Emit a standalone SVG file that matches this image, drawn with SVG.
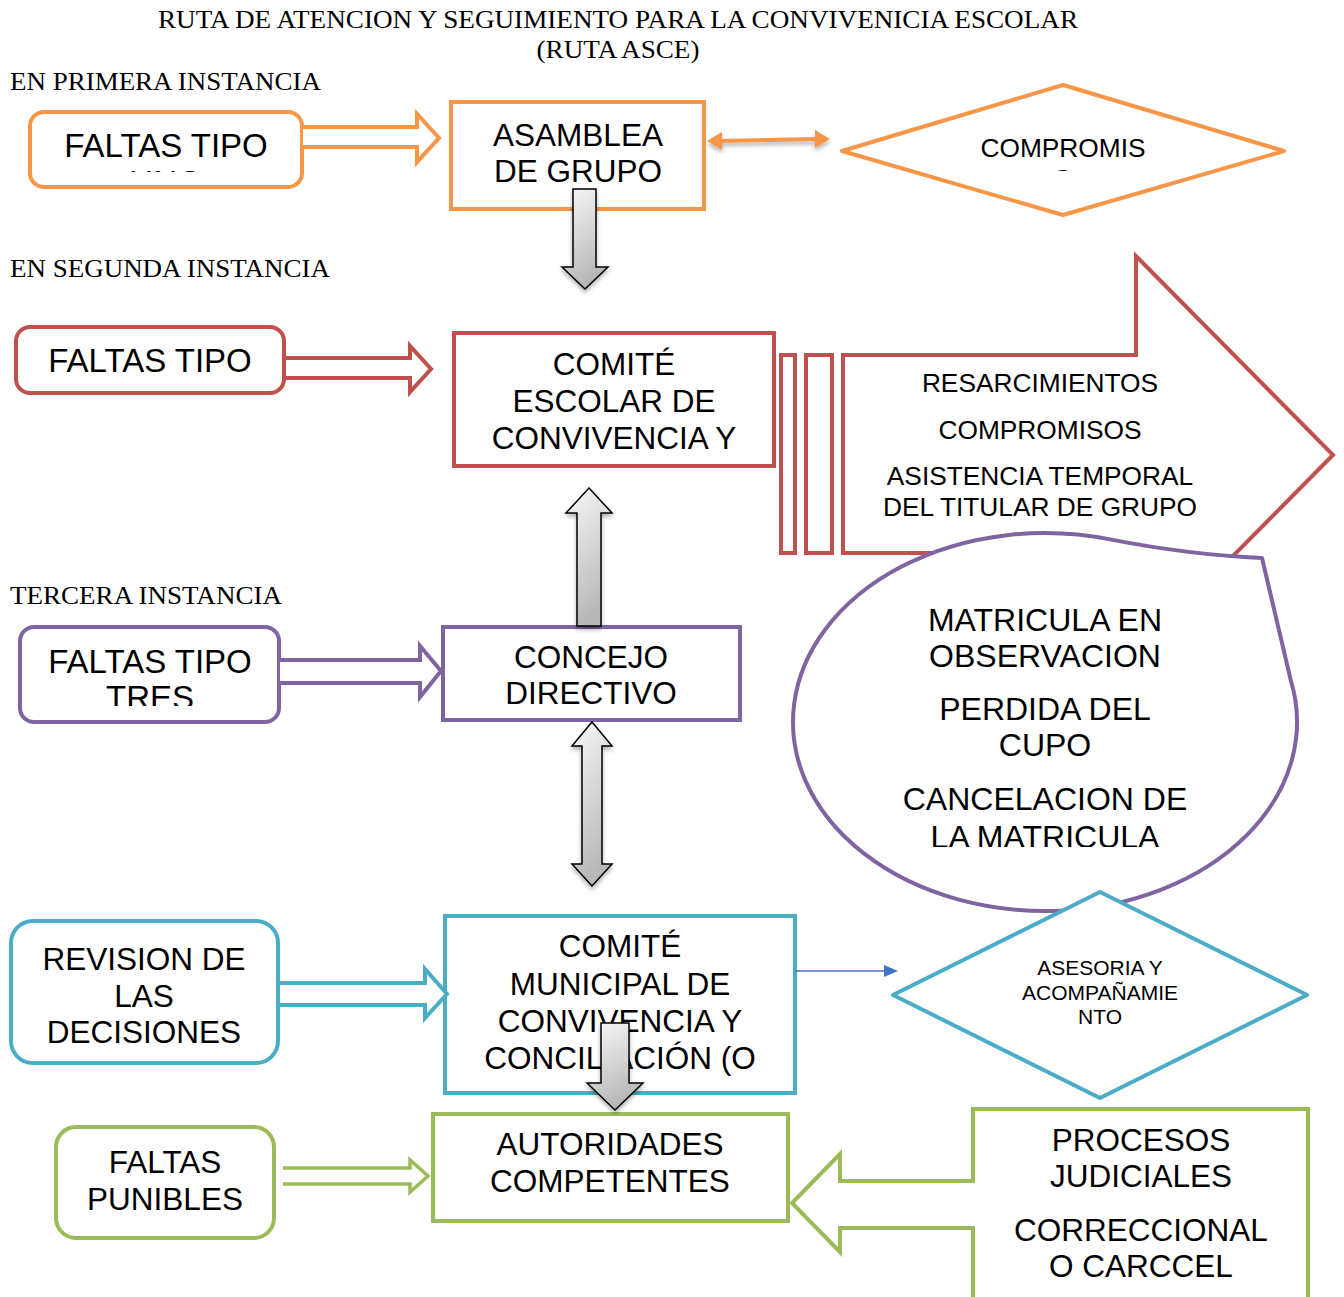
<svg xmlns="http://www.w3.org/2000/svg" width="1344" height="1297" viewBox="0 0 1344 1297">
<style>
.bx{fill:#fff;stroke-width:4}
.o{stroke:#F79646}.r{stroke:#C0504D}.p{stroke:#8064A2}.t{stroke:#4BACC6}.g{stroke:#9BBB59}
.l{font-family:"Liberation Sans",Arial,sans-serif;font-size:31.5px;text-anchor:middle;fill:#000}
.f{font-size:33px}
.m{font-family:"Liberation Sans",Arial,sans-serif;font-size:26.3px;text-anchor:middle;fill:#000}
.s{font-family:"Liberation Sans",Arial,sans-serif;font-size:21px;text-anchor:middle;fill:#000}
.e{font-family:"Liberation Sans",Arial,sans-serif;font-size:32px;text-anchor:middle;fill:#000}
.sf{font-family:"Liberation Serif","Times New Roman",serif;font-size:25.5px;fill:#000}
.ga{fill:url(#gr);stroke:#000;stroke-width:1.5;filter:url(#sh)}
.ha{fill:#fff;stroke-width:4;stroke-linejoin:miter}
</style>
<defs>
<linearGradient id="gr" x1="0" y1="0" x2="0.3" y2="1">
<stop offset="0" stop-color="#f8f8f8"/>
<stop offset="1" stop-color="#b8b8b8"/>
</linearGradient>
<filter id="sh" x="-30%" y="-10%" width="160%" height="130%">
<feDropShadow dx="0" dy="3" stdDeviation="2" flood-color="#000" flood-opacity="0.3"/>
</filter>
<clipPath id="c1"><rect x="30" y="112" width="272" height="60"/></clipPath>
<clipPath id="c2"><rect x="842" y="85" width="442" height="86"/></clipPath>
<clipPath id="c3"><rect x="20" y="627" width="258" height="79"/></clipPath>
<clipPath id="c4"><rect x="795" y="534" width="500" height="313"/></clipPath>
</defs>

<g id="titles">
<text class="sf" x="618" y="28" text-anchor="middle" textLength="920" lengthAdjust="spacingAndGlyphs">RUTA DE ATENCION Y SEGUIMIENTO PARA LA CONVIVENICIA ESCOLAR</text>
<text class="sf" x="618" y="58" text-anchor="middle" textLength="163" lengthAdjust="spacingAndGlyphs">(RUTA ASCE)</text>
<text class="sf" x="10" y="90" textLength="311" lengthAdjust="spacingAndGlyphs">EN PRIMERA INSTANCIA</text>
<text class="sf" x="10" y="277" textLength="320" lengthAdjust="spacingAndGlyphs">EN SEGUNDA INSTANCIA</text>
<text class="sf" x="10" y="604" textLength="272" lengthAdjust="spacingAndGlyphs">TERCERA INSTANCIA</text>
</g>

<g id="faltas-uno">
<rect class="bx o" x="30" y="112" width="272" height="75" rx="14"/>
<g clip-path="url(#c1)">
<text class="l f" x="166" y="157">FALTAS TIPO</text>
<text class="l f" x="166" y="194">UNO</text>
</g>
</g>

<g id="asamblea">
<rect class="bx o" x="451" y="102" width="253" height="107"/>
<text class="l" x="578" y="146">ASAMBLEA</text>
<text class="l" x="578" y="182">DE GRUPO</text>
</g>

<g id="compromiso">
<polygon class="bx o" points="842,151 1063,85 1284,151 1063,215" stroke-linejoin="round"/>
<g clip-path="url(#c2)">
<text class="m" x="1063" y="157">COMPROMIS</text>
<text class="m" x="1063" y="188">O</text>
</g>
</g>

<g id="faltas-dos">
<rect class="bx r" x="16" y="327" width="268" height="66" rx="14"/>
<text class="l f" x="150" y="372">FALTAS TIPO</text>
</g>

<g id="comite-escolar">
<rect class="bx r" x="454" y="333" width="320" height="133"/>
<text class="l" x="614" y="375">COMITÉ</text>
<text class="l" x="614" y="412">ESCOLAR DE</text>
<text class="l" x="614" y="449">CONVIVENCIA Y</text>
</g>

<g id="medidas-segunda">
<rect class="bx r" x="781" y="355" width="14" height="198"/>
<rect class="bx r" x="806" y="355" width="26" height="198"/>
<path class="bx r" d="M843,355 L1136,355 L1136,256 L1333,455 L1136,654 L1136,553 L843,553 Z"/>
<text class="m" x="1040" y="392">RESARCIMIENTOS</text>
<text class="m" x="1040" y="439">COMPROMISOS</text>
<text class="m" x="1040" y="485">ASISTENCIA TEMPORAL</text>
<text class="m" x="1040" y="516">DEL TITULAR DE GRUPO</text>
</g>

<g id="faltas-tres">
<rect class="bx p" x="20" y="627" width="259" height="95" rx="14"/>
<g clip-path="url(#c3)">
<text class="l f" x="150" y="673">FALTAS TIPO</text>
<text class="l f" x="150" y="709">TRES</text>
</g>
</g>

<g id="concejo">
<rect class="bx p" x="443" y="627" width="297" height="93"/>
<text class="l" x="591" y="668">CONCEJO</text>
<text class="l" x="591" y="704">DIRECTIVO</text>
</g>

<g id="medidas-tercera">
<path class="bx p" d="M1262,558 Q1190,555 1110,539.4 A252 189 0 1 0 1290.7,680 Z" stroke-linejoin="round"/>
<g clip-path="url(#c4)">
<text class="e" x="1045" y="631">MATRICULA EN</text>
<text class="e" x="1045" y="667">OBSERVACION</text>
<text class="e" x="1045" y="720">PERDIDA DEL</text>
<text class="e" x="1045" y="756">CUPO</text>
<text class="e" x="1045" y="810">CANCELACION DE</text>
<text class="e" x="1045" y="848">LA MATRICULA</text>
</g>
</g>

<g id="revision">
<rect class="bx t" x="11" y="921" width="267" height="142" rx="22"/>
<text class="l" x="144" y="970">REVISION DE</text>
<text class="l" x="144" y="1007">LAS</text>
<text class="l" x="144" y="1043">DECISIONES</text>
</g>

<g id="comite-municipal">
<rect class="bx t" x="445" y="916" width="350" height="177"/>
<text class="l" x="620" y="957">COMITÉ</text>
<text class="l" x="620" y="995">MUNICIPAL DE</text>
<text class="l" x="620" y="1032">CONVIVENCIA Y</text>
<text class="l" x="620" y="1069">CONCILIACIÓN (O</text>
</g>

<g id="asesoria">
<polygon class="bx t" points="893,995 1100,892 1307,995 1100,1098" stroke-linejoin="round"/>
<text class="s" x="1100" y="975">ASESORIA Y</text>
<text class="s" x="1100" y="1000">ACOMPAÑAMIE</text>
<text class="s" x="1100" y="1024">NTO</text>
</g>

<g id="faltas-punibles">
<rect class="bx g" x="56" y="1127" width="218" height="111" rx="20"/>
<text class="l" x="165" y="1173">FALTAS</text>
<text class="l" x="165" y="1210">PUNIBLES</text>
</g>

<g id="autoridades">
<rect class="bx g" x="433" y="1114" width="355" height="107"/>
<text class="l" x="610" y="1155">AUTORIDADES</text>
<text class="l" x="610" y="1192">COMPETENTES</text>
</g>

<g id="procesos">
<path class="bx g" d="M1308,1300 L1308,1109 L973,1109 L973,1181 L840,1181 L840,1154 L792,1203 L840,1252 L840,1228 L973,1228 L973,1300"/>
<text class="l" x="1141" y="1151">PROCESOS</text>
<text class="l" x="1141" y="1187">JUDICIALES</text>
<text class="l" x="1141" y="1241">CORRECCIONAL</text>
<text class="l" x="1141" y="1277">O CARCCEL</text>
</g>

<g id="connectors">
<path class="ha o" d="M303,127 L417,127 L417,114 L439,138 L417,162 L417,147 L303,147"/>
<g filter="url(#sh)">
<line x1="718" y1="141" x2="818" y2="139" stroke="#F79646" stroke-width="4"/>
<polygon points="707,141 722,132 722,150" fill="#F79646"/>
<polygon points="830,139 815,130 815,148" fill="#F79646"/>
</g>
<path class="ga" d="M573,189 L596,189 L596,267 L608,267 L585,289 L562,267 L573,267 Z"/>
<path class="ha r" d="M286,358 L410,358 L410,346 L431,369 L410,392 L410,378 L286,378"/>
<path class="ga" d="M589,488 L612,513 L601,513 L601,626 L577,626 L577,513 L566,513 Z"/>
<path class="ha p" d="M280,660 L420,660 L420,646 L441,671 L420,697 L420,683 L280,683"/>
<path class="ga" d="M592,722 L612,746 L602,746 L602,864 L612,864 L592,886 L572,864 L582,864 L582,746 L572,746 Z"/>
<path class="ha t" d="M280,983 L425,983 L425,969 L447,994 L425,1018 L425,1005 L280,1005"/>
<line x1="795" y1="971" x2="885" y2="971" stroke="#4472C4" stroke-width="1.5"/>
<polygon points="898,971 884,965 884,977" fill="#4472C4"/>
<path class="ga" d="M601,1023 L629,1023 L629,1083 L643,1083 L615,1110 L587,1083 L601,1083 Z"/>
<path class="ha g" style="stroke-width:3.5" d="M283,1168 L410,1168 L410,1160 L428,1176 L410,1192 L410,1184 L283,1184"/>
</g>
</svg>
